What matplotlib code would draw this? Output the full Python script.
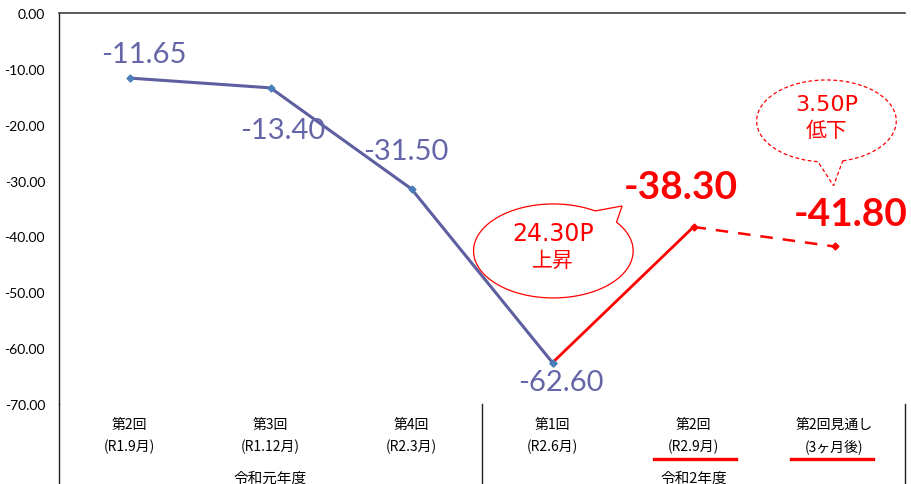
import numpy as np
import matplotlib
matplotlib.use('Agg')
import matplotlib.pyplot as plt
from matplotlib.patches import Polygon
from matplotlib.transforms import blended_transform_factory

plt.rcParams['font.family'] = ['Noto Sans CJK JP', 'DejaVu Sans']

# 調査回ごとのDI値
categories = ['第2回\n(R1.9月)', '第3回\n(R1.12月)', '第4回\n(R2.3月)',
              '第1回\n(R2.6月)', '第2回\n(R2.9月)', '第2回見通し\n(3ヶ月後)']
values = [-11.65, -13.40, -31.50, -62.60, -38.30, -41.80]
groups = ['令和元年度', '令和2年度']
group_centers = [1, 4]
yticks = [0, -10, -20, -30, -40, -50, -60, -70]

BLUE = '#5d5fa0'
LABEL_BLUE = '#6466a8'
MARK_BLUE = '#4a7ebb'
RED = '#ff0000'

fig = plt.figure(figsize=(9.11, 4.85), dpi=100)
ax = fig.add_axes([59 / 911, 1 - 405 / 485, 846 / 911, 391 / 485])

x = np.arange(len(values))

# 令和元年度〜R2.6月
ax.plot(x[:4], values[:4], color=BLUE, lw=2.2, marker='D', ms=3.5,
        mfc=MARK_BLUE, mec=MARK_BLUE, zorder=3)
# 上昇区間
ax.plot(x[3:5], values[3:5], color=RED, lw=2.0, zorder=3)
# 見通し
ax.plot(x[4:6], values[4:6], color=RED, lw=1.8, ls=(0, (5, 4)), zorder=3)
ax.plot(x[4:6], values[4:6], ls='none', marker='D', ms=3.5, color=RED, zorder=4)
ax.plot(x[3], values[3], ls='none', marker='D', ms=3.5, color=MARK_BLUE, zorder=5)

# データラベル
offsets = [(10, 17), (9, -30), (-4, 27), (6, -14), (-9, 29), (12, 24)]
for i, (v, off) in enumerate(zip(values, offsets)):
    if i < 4:
        ax.annotate(f'{v:.2f}', (x[i], v), xytext=off, textcoords='offset points',
                    ha='center', va='center', fontsize=21, color=LABEL_BLUE,
                    family=['Lato', 'DejaVu Sans'])
    else:
        ax.annotate(f'{v:.2f}', (x[i], v), xytext=off, textcoords='offset points',
                    ha='center', va='center', fontsize=28, color=RED,
                    fontweight='bold', family=['Lato', 'DejaVu Sans'])


def callout(cx, cy, a, b, t1, t2, tip, ls):
    # 楕円の吹き出し（t1〜t2の間に尾を付ける）
    t = np.radians(np.linspace(t2, t1 + 360, 200))
    pts = np.column_stack([cx + a * np.cos(t), cy + b * np.sin(t)])
    pts = np.vstack([pts, tip])
    ax.add_patch(Polygon(pts, closed=True, fc='white', ec=RED, lw=0.9,
                         ls=ls, zorder=6))


num_font = ['DejaVu Sans', 'Noto Sans CJK JP']

callout(3.006, -42.6, 0.566, 8.41, 37.7, 58.4, (3.494, -34.55), '-')
ax.text(3.006, -39.3, f'{values[4] - values[3]:.2f}P', ha='center', va='center',
        fontsize=17, color=RED, family=num_font, zorder=7)
ax.text(3.006, -44.2, '上昇', ha='center', va='center', fontsize=15,
        color=RED, zorder=7)

callout(4.943, -19.33, 0.495, 7.34, -97, -76.5, (4.993, -30.92), (0, (3, 2)))
ax.text(4.943, -16.3, f'{values[4] - values[5]:.2f}P', ha='center', va='center',
        fontsize=16, color=RED, family=num_font, zorder=7)
ax.text(4.943, -21.0, '低下', ha='center', va='center', fontsize=15,
        color=RED, zorder=7)

ax.set_xlim(-0.5, 5.5)
ax.set_ylim(-70, 0)
ax.set_yticks(yticks)
ax.set_yticklabels([f'{t:.2f}' for t in yticks], family=['Lato', 'DejaVu Sans'],
                   fontsize=10)
ax.set_xticks(x)
ax.set_xticklabels(categories, fontsize=10, linespacing=1.7)
ax.tick_params(axis='both', length=0)
ax.tick_params(axis='y', pad=10)
ax.tick_params(axis='x', pad=9)

ax.spines['right'].set_visible(False)
ax.spines['bottom'].set_visible(False)
ax.spines['top'].set_color('#404040')
ax.spines['top'].set_linewidth(1.2)
ax.spines['left'].set_color('#202020')
ax.spines['left'].set_linewidth(1.0)

trans = blended_transform_factory(ax.transData, ax.transAxes)
# 区切り線
for xs in [-0.5, 2.5, 5.5]:
    ax.plot([xs, xs], [0, -0.22], color='#202020', lw=1.0, transform=trans,
            clip_on=False)
# 下線
for c in [4.01, 4.98]:
    ax.plot([c - 0.29, c + 0.29], [-0.1407, -0.1407], color=RED, lw=2.4,
            transform=trans, clip_on=False)
# 年度ラベル
for g, gc in zip(groups, group_centers):
    ax.text(gc, -0.172, g, ha='center', va='top', fontsize=10.5,
            transform=trans, clip_on=False)

fig.savefig('out.png', dpi=100)
